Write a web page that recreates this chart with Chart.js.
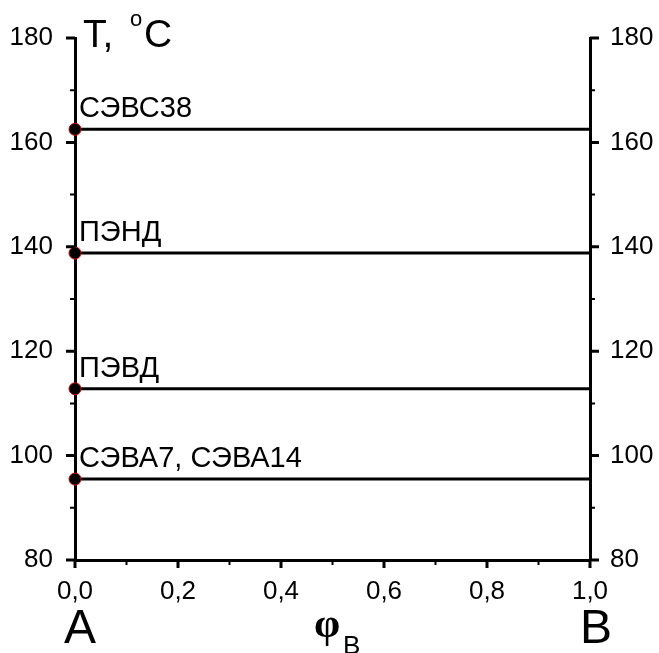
<!DOCTYPE html>
<html>
<head>
<meta charset="utf-8">
<script src="https://cdn.jsdelivr.net/npm/chart.js@4/dist/chart.umd.min.js"></script>
<style>
  html, body { margin: 0; padding: 0; background: #fff; }
  canvas { display: block; }
</style>
</head>
<body>
<canvas id="phaseChart" width="659" height="653"></canvas>
<script>
// polymer names and their melting temperatures (deg C)
var polymers = ['СЭВС38', 'ПЭНД', 'ПЭВД', 'СЭВА7, СЭВА14'];
var meltTemps = [162.5, 138.8, 112.8, 95.5];
var phiRange = [0, 1];
var tempRange = [80, 180];

var FONT = '"Liberation Sans", Arial, sans-serif';

var datasets = polymers.map(function (name, i) {
    return {
        label: name,
        data: phiRange.map(function (phi) { return { x: phi, y: meltTemps[i] }; }),
        borderColor: '#000',
        borderWidth: 3,
        pointRadius: [6, 0],
        pointBackgroundColor: '#000',
        pointBorderColor: '#d40000',
        pointBorderWidth: 1,
        showLine: true,
        clip: false
    };
});

// short/long tick marks outside the frame, like the original plot
var tickMarks = {
    id: 'tickMarks',
    afterDraw: function (chart) {
        var ctx = chart.ctx;
        var x = chart.scales.x, y = chart.scales.y;
        var area = chart.chartArea;
        ctx.save();
        ctx.strokeStyle = '#000';
        ctx.lineCap = 'butt';
        var v, px, major;
        for (v = tempRange[0]; v <= tempRange[1]; v += 10) {
            px = y.getPixelForValue(v);
            major = v % 20 === 0;
            ctx.lineWidth = major ? 3 : 2;
            var len = major ? 9 : 5;
            ctx.beginPath();
            ctx.moveTo(area.left, px); ctx.lineTo(area.left - len, px);
            ctx.moveTo(area.right, px); ctx.lineTo(area.right + len, px);
            ctx.stroke();
        }
        for (var k = 0; k <= 10; k++) {
            px = x.getPixelForValue(k / 10);
            major = k % 2 === 0;
            ctx.lineWidth = major ? 3 : 2;
            ctx.beginPath();
            ctx.moveTo(px, area.bottom); ctx.lineTo(px, area.bottom + (major ? 8 : 5));
            ctx.stroke();
        }
        ctx.restore();
    }
};

// polymer labels, axis title, component letters
var annotations = {
    id: 'annotations',
    afterDatasetsDraw: function (chart) {
        var ctx = chart.ctx;
        var x = chart.scales.x, y = chart.scales.y;
        var area = chart.chartArea;
        ctx.save();
        ctx.fillStyle = '#000';
        ctx.textAlign = 'left';
        ctx.textBaseline = 'alphabetic';
        ctx.font = '29px ' + FONT;
        polymers.forEach(function (name, i) {
            ctx.fillText(name, x.getPixelForValue(0) + 4, y.getPixelForValue(meltTemps[i]) - 12);
        });

        // T, °C
        ctx.font = '39px ' + FONT;
        ctx.fillText('T,', area.left + 8, 47);
        ctx.font = '22px ' + FONT;
        ctx.fillText('o', area.left + 55, 26);
        ctx.font = '39px ' + FONT;
        ctx.fillText('C', area.left + 69, 47);

        // A and B
        ctx.font = '48px ' + FONT;
        ctx.textAlign = 'center';
        ctx.fillText('A', x.getPixelForValue(0) + 5, 643);
        ctx.fillText('B', x.getPixelForValue(1) + 6, 643);

        // phi_B
        ctx.font = 'bold 42px "Liberation Serif", "DejaVu Serif", serif';
        ctx.fillText('φ', 327, 637);
        ctx.font = '26px ' + FONT;
        ctx.textAlign = 'left';
        ctx.fillText('B', 343, 654);
        ctx.restore();
    }
};

var yAxis = function (pos, width, pad) {
    return {
        type: 'linear',
        position: pos,
        min: tempRange[0],
        max: tempRange[1],
        ticks: {
            stepSize: 10,
            padding: pad,
            color: '#000',
            font: { family: FONT, size: 26 },
            callback: function (v) { return v % 20 === 0 ? String(v) : ''; }
        },
        grid: { display: false, drawTicks: false },
        border: { display: true, width: 3, color: '#000' },
        afterFit: function (s) { s.width = width; }
    };
};

new Chart(document.getElementById('phaseChart').getContext('2d'), {
    type: 'scatter',
    data: { datasets: datasets },
    options: {
        responsive: false,
        animation: false,
        layout: { padding: { top: 38, left: 0, right: 0, bottom: 0 } },
        plugins: { legend: { display: false }, tooltip: { enabled: false } },
        scales: {
            x: {
                type: 'linear',
                position: 'bottom',
                min: phiRange[0],
                max: phiRange[1],
                ticks: {
                    stepSize: 0.1,
                    autoSkip: false,
                    maxRotation: 0,
                    padding: 16,
                    color: '#000',
                    font: { family: FONT, size: 26 },
                    callback: function (v) {
                        var k = Math.round(v * 10);
                        return k % 2 === 0 ? (k / 10).toFixed(1).replace('.', ',') : '';
                    }
                },
                grid: { display: false, drawTicks: false },
                border: { display: true, width: 3, color: '#000' },
                afterFit: function (s) { s.height = 93; }
            },
            y: yAxis('left', 75, 22),
            y2: yAxis('right', 69, 20)
        }
    },
    plugins: [tickMarks, annotations]
});
</script>
</body>
</html>
